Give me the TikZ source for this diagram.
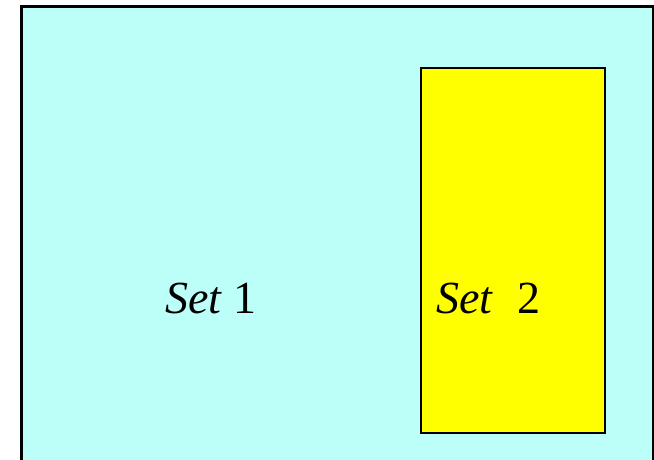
\documentclass[tikz,border=0pt]{standalone}
\usepackage{fontspec}
\setmainfont{Liberation Serif}
\definecolor{setcyan}{RGB}{188,255,248}
\definecolor{setyellow}{RGB}{255,255,0}
\begin{document}
\begin{tikzpicture}[x=1pt,y=1pt,
  setbox/.style={line width=2.3pt,draw=black},
  setlabel/.style={anchor=base west,inner sep=0pt,font=\fontsize{46}{50}\selectfont}]
\useasboundingbox (0,0) rectangle (654,460);
\clip (0,0) rectangle (654,460);
\node[setbox,fill=setcyan,minimum width=632pt,minimum height=475pt,anchor=north west,inner sep=0pt,line width=2.6pt] (set1) at (20,455) {};
\node[setbox,fill=setyellow,minimum width=184pt,minimum height=365pt,anchor=north west,inner sep=0pt] (set2) at (420,393) {};
\node[setlabel] (lab1) at (165,146) {\textit{Set} 1};
\node[setlabel] (lab2) at (436,146) {\textit{Set}\hspace{0.52em}2};
\end{tikzpicture}
\end{document}
